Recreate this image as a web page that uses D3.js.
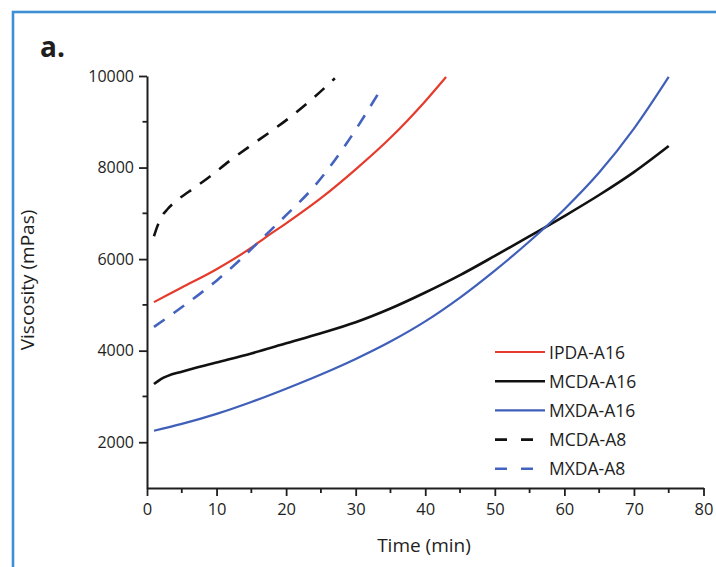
<!DOCTYPE html>
<html>
<head>
<meta charset="utf-8">
<script src="https://cdn.jsdelivr.net/npm/d3@7/dist/d3.min.js"></script>
<style>
  html, body { margin: 0; padding: 0; background: #ffffff; }
  svg { display: block; }
  text { font-family: "Open Sans", "Liberation Sans", sans-serif; fill: #1e1e1e; }
</style>
</head>
<body>
<svg id="chart" width="716" height="567"></svg>
<script>
// ---- data ----
const seriesNames = ["IPDA-A16", "MCDA-A16", "MXDA-A16", "MCDA-A8", "MXDA-A8"];
const seriesColors = ["#e53b2c", "#111111", "#3f5fb9", "#111111", "#4463bf"];
const seriesDashed = [false, false, false, true, true];

const ipdaA16Time = [1, 5, 10, 15, 17, 20, 25, 30, 35, 40, 43];
const ipdaA16Visc = [5060, 5380, 5780, 6250, 6470, 6780, 7330, 7960, 8650, 9450, 9980];

const mcdaA16Time = [1, 2, 3, 5, 10, 15, 20, 25, 30, 35, 40, 45, 50, 55, 60, 65, 70, 75];
const mcdaA16Visc = [3270, 3380, 3450, 3540, 3740, 3940, 4160, 4380, 4620, 4920, 5270, 5650, 6070, 6500, 6940, 7400, 7900, 8470];

const mxdaA16Time = [1, 5, 10, 15, 20, 25, 30, 35, 40, 45, 50, 55, 60, 65, 70, 75];
const mxdaA16Visc = [2250, 2400, 2620, 2880, 3170, 3480, 3820, 4200, 4640, 5160, 5750, 6390, 7090, 7890, 8850, 9980];

const mcdaA8Time = [1, 1.5, 2, 3, 4, 6, 9, 12, 15, 18, 21, 24, 27];
const mcdaA8Visc = [6500, 6720, 6900, 7100, 7250, 7470, 7800, 8160, 8490, 8810, 9150, 9530, 9950];

const mxdaA8Time = [1, 4, 7.5, 10, 13, 16.75, 20, 24, 28.7, 33.3];
const mxdaA8Visc = [4520, 4840, 5230, 5530, 5930, 6480, 6960, 7580, 8530, 9630];

const xMajorTicks = [0, 10, 20, 30, 40, 50, 60, 70, 80];
const xMinorTicks = [5, 15, 25, 35, 45, 55, 65, 75];
const yMajorTicks = [2000, 4000, 6000, 8000, 10000];
const yMinorTicks = [3000, 5000, 7000, 9000];

const xTitle = "Time (min)";
const yTitle = "Viscosity (mPas)";
const panelLabel = "a.";

// ---- layout ----
const svg = d3.select("#chart");
const plotLeft = 147, plotRight = 703.5, plotTop = 76, plotBottom = 488;
const ink = "#1e1e1e";

// panel frame (left and top edges visible)
svg.append("rect")
  .attr("x", 13).attr("y", 12)
  .attr("width", 760).attr("height", 640)
  .attr("fill", "none")
  .attr("stroke", "#3f8fd4")
  .attr("stroke-width", 2.6);

const x = d3.scaleLinear().domain([0, 80]).range([plotLeft, plotRight]);
const y = d3.scaleLinear().domain([1000, 10000]).range([plotBottom, plotTop]);

// axes
const xAxis = svg.append("g").attr("transform", `translate(0,${plotBottom})`)
  .call(d3.axisBottom(x).tickValues(xMajorTicks).tickSize(8).tickSizeOuter(0).tickPadding(7)
    .tickFormat(d3.format("d")));
xAxis.append("g").selectAll("line").data(xMinorTicks).join("line")
  .attr("x1", d => x(d)).attr("x2", d => x(d)).attr("y1", 0).attr("y2", 5)
  .attr("stroke", ink).attr("stroke-width", 1.8);

const yAxis = svg.append("g").attr("transform", `translate(${plotLeft},0)`)
  .call(d3.axisLeft(y).tickValues(yMajorTicks).tickSize(8).tickSizeOuter(0).tickPadding(5)
    .tickFormat(d3.format("d")));
yAxis.append("g").selectAll("line").data(yMinorTicks).join("line")
  .attr("y1", d => y(d)).attr("y2", d => y(d)).attr("x1", 0).attr("x2", -4.5)
  .attr("stroke", ink).attr("stroke-width", 1.8);

[xAxis, yAxis].forEach(g => {
  g.select(".domain").attr("stroke", ink).attr("stroke-width", 2);
  g.selectAll(".tick line").attr("stroke", ink).attr("stroke-width", 1.8);
  g.selectAll(".tick text").attr("fill", ink)
    .style("font-family", '"Open Sans", sans-serif');
});
xAxis.selectAll(".tick text").attr("font-size", 16.5);
yAxis.selectAll(".tick text").attr("font-size", 16);

// titles
svg.append("text").attr("x", 424).attr("y", 552).attr("text-anchor", "middle")
  .attr("font-size", 19).text(xTitle);
svg.append("text").attr("transform", "translate(34,280) rotate(-90)")
  .attr("text-anchor", "middle").attr("font-size", 19).text(yTitle);
svg.append("text").attr("x", 40).attr("y", 57)
  .attr("font-size", 28).attr("font-weight", "bold").text(panelLabel);

// lines
const allTimes = [ipdaA16Time, mcdaA16Time, mxdaA16Time, mcdaA8Time, mxdaA8Time];
const allVisc = [ipdaA16Visc, mcdaA16Visc, mxdaA16Visc, mcdaA8Visc, mxdaA8Visc];
const widths = [2.2, 2.6, 2.2, 2.6, 2.6];

const line = d3.line().x(d => x(d[0])).y(d => y(d[1])).curve(d3.curveMonotoneX);
seriesNames.forEach((name, i) => {
  const pts = allTimes[i].map((t, j) => [t, allVisc[i][j]]);
  svg.append("path").datum(pts)
    .attr("d", line)
    .attr("fill", "none")
    .attr("stroke", seriesColors[i])
    .attr("stroke-width", widths[i])
    .attr("stroke-dasharray", seriesDashed[i] ? "13,11" : null);
});

// legend
const legX = 495, legY0 = 352, legDy = 29.2;
seriesNames.forEach((name, i) => {
  const yy = legY0 + i * legDy;
  svg.append("line")
    .attr("x1", legX).attr("x2", seriesDashed[i] ? legX + 38 : legX + 50)
    .attr("y1", yy).attr("y2", yy)
    .attr("stroke", seriesColors[i])
    .attr("stroke-width", widths[i])
    .attr("stroke-dasharray", seriesDashed[i] ? "12,14" : null);
  svg.append("text").attr("x", 549).attr("y", yy + 6.6)
    .attr("font-size", 17.5).text(name);
});
</script>
</body>
</html>
